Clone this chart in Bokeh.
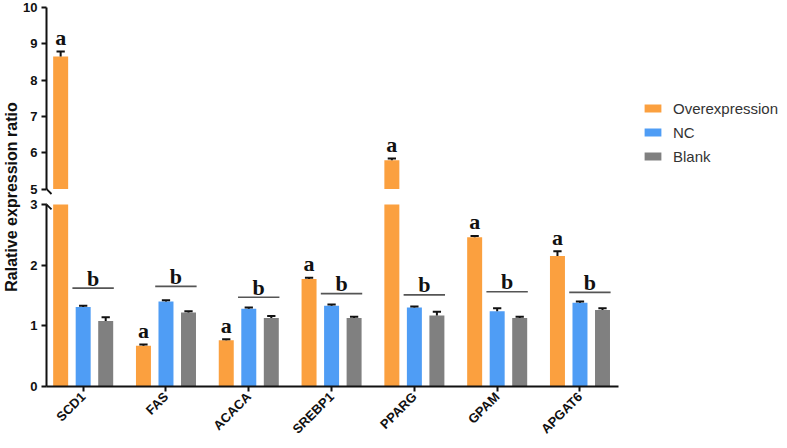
import math
import numpy as np
from bokeh.plotting import figure
from bokeh.models import (Range1d, FixedTicker, ColumnDataSource, Legend, LegendItem,
                          Arrow, CustomJSTickFormatter)
from bokeh.core.properties import value
from bokeh.embed import file_html
from bokeh.resources import INLINE

# ---------------- data ----------------
genes = ["SCD1", "FAS", "ACACA", "SREBP1", "PPARG", "GPAM", "APGAT6"]
series_names = ["Overexpression", "NC", "Blank"]
over = [8.65, 0.67, 0.76, 1.77, 5.79, 2.46, 2.15]
over_err = [0.14, 0.02, 0.02, 0.02, 0.05, 0.02, 0.08]
nc = [1.31, 1.40, 1.28, 1.33, 1.30, 1.24, 1.38]
nc_err = [0.02, 0.02, 0.02, 0.02, 0.02, 0.05, 0.02]
blank = [1.08, 1.22, 1.13, 1.13, 1.17, 1.13, 1.26]
blank_err = [0.06, 0.02, 0.03, 0.02, 0.06, 0.02, 0.03]
sig_line = [1.62, 1.65, 1.47, 1.53, 1.51, 1.56, 1.55]
over_letter = ["a"] * 7
ctrl_letter = ["b"] * 7
low_ticks = [0, 1, 2, 3]
up_ticks = [5, 6, 7, 8, 9, 10]
y_title = "Ralative expression ratio"

# ---------------- styling / layout ----------------
colors = ["#fba03f", "#4f9df5", "#808080"]
offsets = [-0.272, 0.0, 0.272]
bar_w = 0.181
cap_half = 0.05
BREAK_LOW, BREAK_HIGH, TOP = 3, 5, 10
FRAME_W, FRAME_H = 572, 379
PX_X = 82.8            # px per category
X_START = 0.057        # category-units left of the first slot
LOW_PX = 60.7          # px per unit in the lower segment
BREAK_HIGH_PX = 197.5  # height of the value 5 above the frame bottom
FONT = "Liberation Sans"

low_end = FRAME_H / LOW_PX
up_px = (FRAME_H - BREAK_HIGH_PX) / (TOP - BREAK_HIGH)
up_start = BREAK_HIGH - BREAK_HIGH_PX / up_px

xc = np.arange(len(genes)) + 0.5   # category centres

p = figure(x_range=Range1d(X_START, X_START + FRAME_W / PX_X), y_range=Range1d(0, low_end),
           frame_width=FRAME_W, frame_height=FRAME_H,
           min_border_left=46, min_border_top=7, min_border_right=169, min_border_bottom=0,
           toolbar_location=None, output_backend="svg", outline_line_color=None)
p.extra_y_ranges = {"upper": Range1d(up_start, TOP)}
p.xgrid.visible = False
p.ygrid.visible = False


def style_axis(ax):
    ax.axis_line_width = 2
    ax.axis_line_color = "#111111"
    ax.major_tick_line_width = 2
    ax.major_tick_line_color = "#111111"
    ax.major_tick_out = 5
    ax.major_tick_in = 0
    ax.minor_tick_line_color = None
    ax.major_label_text_font = FONT
    ax.major_label_text_font_style = "bold"
    ax.major_label_text_font_size = "13px"
    ax.major_label_text_color = "#111111"


# y axis: one axis, lower ticks in lower units, upper ticks positioned via the upper scale
yax = p.yaxis[0]
style_axis(yax)
up_tick_pos = [(v - up_start) * up_px / LOW_PX for v in up_ticks]
yax.ticker = FixedTicker(ticks=low_ticks + up_tick_pos)
yax.formatter = CustomJSTickFormatter(
    args=dict(lo=BREAK_LOW + 0.01, s=up_start, r=LOW_PX / up_px),
    code="if (tick <= lo) { return tick.toFixed(0); } return Math.round(s + tick * r).toFixed(0);")
yax.major_label_standoff = 4
seg_low = int(round(BREAK_LOW * LOW_PX))
seg_gap = int(round(BREAK_HIGH_PX - BREAK_LOW * LOW_PX))
yax.axis_line_dash = [seg_low, seg_gap, 600]
yax.axis_label = y_title
yax.axis_label_text_font = FONT
yax.axis_label_text_font_style = "bold"
yax.axis_label_text_font_size = "16px"
yax.axis_label_text_color = "#111111"
yax.axis_label_standoff = 0

xax = p.xaxis[0]
style_axis(xax)
xax.ticker = FixedTicker(ticks=list(xc))
xax.major_label_overrides = {float(c): g for c, g in zip(xc, genes)}
xax.major_label_orientation = math.pi / 4
xax.major_label_standoff = 3

# ---------------- bars ----------------
vals = [over, nc, blank]
errs = [over_err, nc_err, blank_err]
legend_items = []
for name, v, e, c, off in zip(series_names, vals, errs, colors, offsets):
    v = np.array(v, dtype=float)
    e = np.array(e, dtype=float)
    xs = xc + off
    low = ColumnDataSource(dict(x=xs, top=np.minimum(v, BREAK_LOW)))
    r = p.vbar(x="x", top="top", bottom=0, width=bar_w, source=low,
               fill_color=c, line_color=None)
    legend_items.append(LegendItem(label=name, renderers=[r]))
    hi = v > BREAK_HIGH
    if hi.any():
        up = ColumnDataSource(dict(x=xs[hi], top=v[hi]))
        p.vbar(x="x", top="top", bottom=BREAK_HIGH, width=bar_w, source=up,
               fill_color=c, line_color=None, y_range_name="upper")
    for mask, rname in ((~hi, "default"), (hi, "upper")):
        if not mask.any():
            continue
        es = ColumnDataSource(dict(x=xs[mask], x0=xs[mask] - cap_half, x1=xs[mask] + cap_half,
                                   y0=v[mask], y1=v[mask] + e[mask]))
        p.segment(x0="x", x1="x", y0="y0", y1="y1", source=es, line_color="#111111",
                  line_width=2, y_range_name=rname)
        p.segment(x0="x0", x1="x1", y0="y1", y1="y1", source=es, line_color="#111111",
                  line_width=2, y_range_name=rname)

# ---------------- significance letters ----------------
over_a = np.array(over) + np.array(over_err)
over_hi = np.array(over) > BREAK_HIGH
for mask, rname in ((~over_hi, "default"), (over_hi, "upper")):
    s = ColumnDataSource(dict(x=(xc + offsets[0])[mask], y=over_a[mask],
                              t=[t for t, m in zip(over_letter, mask) if m]))
    p.text(x="x", y="y", text="t", source=s,
           text_font=value("Liberation Serif"), text_font_style="bold", text_font_size="22px",
           text_align="center", text_baseline="alphabetic", y_offset=-14,
           text_color="#111111", y_range_name=rname)

sig = ColumnDataSource(dict(x0=xc - 0.13, x1=xc + 0.37, xm=xc + 0.12, y=sig_line, t=ctrl_letter))
p.segment(x0="x0", x1="x1", y0="y", y1="y", source=sig, line_color="#555555", line_width=1.6)
p.text(x="xm", y="y", text="t", source=sig,
       text_font=value("Liberation Serif"), text_font_style="bold", text_font_size="22px",
       text_align="center", text_baseline="alphabetic", y_offset=-10, text_color="#111111")

# ---------------- axis break marks ----------------
dx = 5 / PX_X
p.add_layout(Arrow(start=None, end=None, x_start=X_START - dx, x_end=X_START + dx,
                   y_start=BREAK_HIGH + 5 / up_px, y_end=BREAK_HIGH - 5 / up_px,
                   y_range_name="upper", line_width=1.8, line_color="#111111"))
p.add_layout(Arrow(start=None, end=None, x_start=X_START - dx, x_end=X_START + dx,
                   y_start=BREAK_LOW + 5 / LOW_PX, y_end=BREAK_LOW - 5 / LOW_PX,
                   line_width=1.8, line_color="#111111"))

# ---------------- legend ----------------
legend = Legend(items=legend_items, location=(24, 220), margin=0, padding=0,
                glyph_width=21, glyph_height=10, label_standoff=10, spacing=4,
                label_height=20, label_text_font=FONT, label_text_font_size="15px",
                label_text_color="#333333", border_line_color=None,
                background_fill_alpha=0)
p.add_layout(legend, "right")

open("out.html", "w").write(file_html(p, INLINE))
